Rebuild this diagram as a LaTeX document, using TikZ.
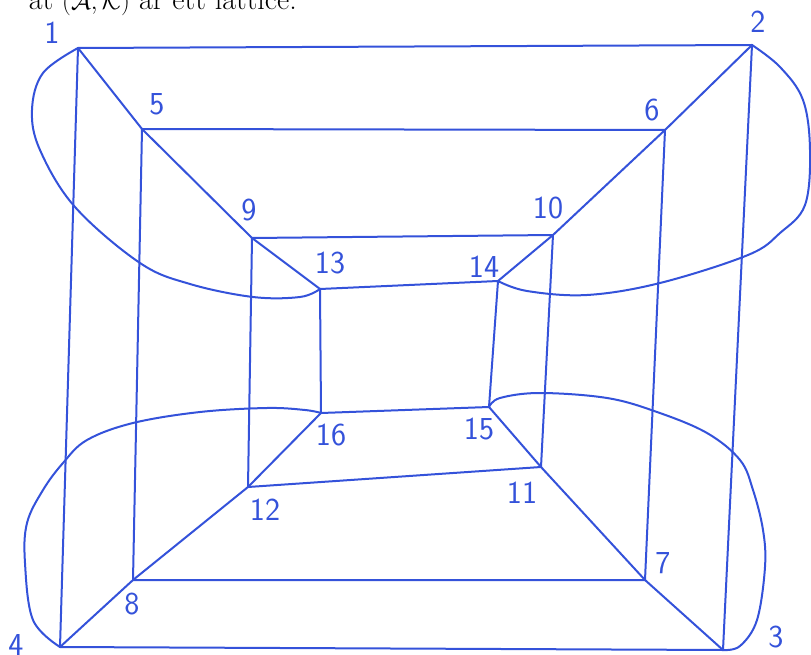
\documentclass[tikz,border=0pt]{standalone}
\usepackage{amsmath}
\definecolor{penblue}{RGB}{52,82,218}
\begin{document}
\begin{tikzpicture}[x=1pt,y=-1pt,
  pen/.style={draw=penblue, line width=2pt, line join=round, line cap=round},
  lab/.style={text=penblue, font=\fontsize{32}{32}\selectfont\sffamily, inner sep=0pt}]
\useasboundingbox (0,0) rectangle (811,655);
\begin{scope}
\clip (0,0) rectangle (811,655);
\node[anchor=base east, font=\fontsize{30}{30}\selectfont, inner sep=0pt] (title) at (297,10) {at $(\mathcal{A},\mathcal{K})$ är ett lattice.};
% vertices
\coordinate (v1) at (78,48);
\coordinate (v2) at (752,45);
\coordinate (v3) at (723,650);
\coordinate (v4) at (60,647);
\coordinate (v5) at (142,129);
\coordinate (v6) at (665,130);
\coordinate (v7) at (645,580);
\coordinate (v8) at (133,580);
\coordinate (v9) at (252,238);
\coordinate (v10) at (553,235);
\coordinate (v11) at (541,467);
\coordinate (v12) at (248,487);
\coordinate (v13) at (320,289);
\coordinate (v14) at (498,281);
\coordinate (v15) at (489,407);
\coordinate (v16) at (321,413);
% labels
\node[lab] (l1) at (52,33) {1};
\node[lab] (l2) at (758,22) {2};
\node[lab] (l3) at (776,637) {3};
\node[lab] (l4) at (16,645) {4};
\node[lab] (l5) at (157,104) {5};
\node[lab] (l6) at (652,110) {6};
\node[lab] (l7) at (663,563) {7};
\node[lab] (l8) at (132,604) {8};
\node[lab] (l9) at (249,210) {9};
\node[lab] (l10) at (548,208) {10};
\node[lab] (l11) at (522,493) {11};
\node[lab] (l12) at (265,510) {12};
\node[lab] (l13) at (330,263) {13};
\node[lab] (l14) at (484,267) {14};
\node[lab] (l15) at (479,429) {15};
\node[lab] (l16) at (331,435) {16};
% squares
\draw[pen] (v1) -- (v2) -- (v3) -- (v4) -- cycle;
\draw[pen] (v5) -- (v6) -- (v7) -- (v8) -- cycle;
\draw[pen] (v9) -- (v10) -- (v11) -- (v12) -- cycle;
\draw[pen] (v13) -- (v14) -- (v15) -- (v16) -- cycle;
% diagonals
\draw[pen] (v1) -- (v5) -- (v9) -- (v13);
\draw[pen] (v2) -- (v6) -- (v10) -- (v14);
\draw[pen] (v3) -- (v7) -- (v11) -- (v15);
\draw[pen] (v4) -- (v8) -- (v12) -- (v16);
% curved edges
\draw[pen] plot[smooth, tension=0.6] coordinates {(v1) (43,73) (32,110) (40,150) (75,207) (140,263) (190,284) (253,297) (300,297) (v13)};
\draw[pen] plot[smooth, tension=0.6] coordinates {(v2) (780,67) (803,100) (810,150) (805,205) (780,233) (748,255) (660,283) (587,295) (527,291) (v14)};
\draw[pen] plot[smooth, tension=0.6] coordinates {(v4) (33,620) (25,563) (27,523) (43,490) (63,463) (87,440) (133,423) (200,412) (267,408) (305,410) (v16)};
\draw[pen] plot[smooth, tension=0.6] coordinates {(v3) (740,646) (757,620) (765,567) (763,530) (753,490) (740,460) (707,433) (657,412) (607,398) (540,393) (500,398) (v15)};
\end{scope}
\end{tikzpicture}
\end{document}
